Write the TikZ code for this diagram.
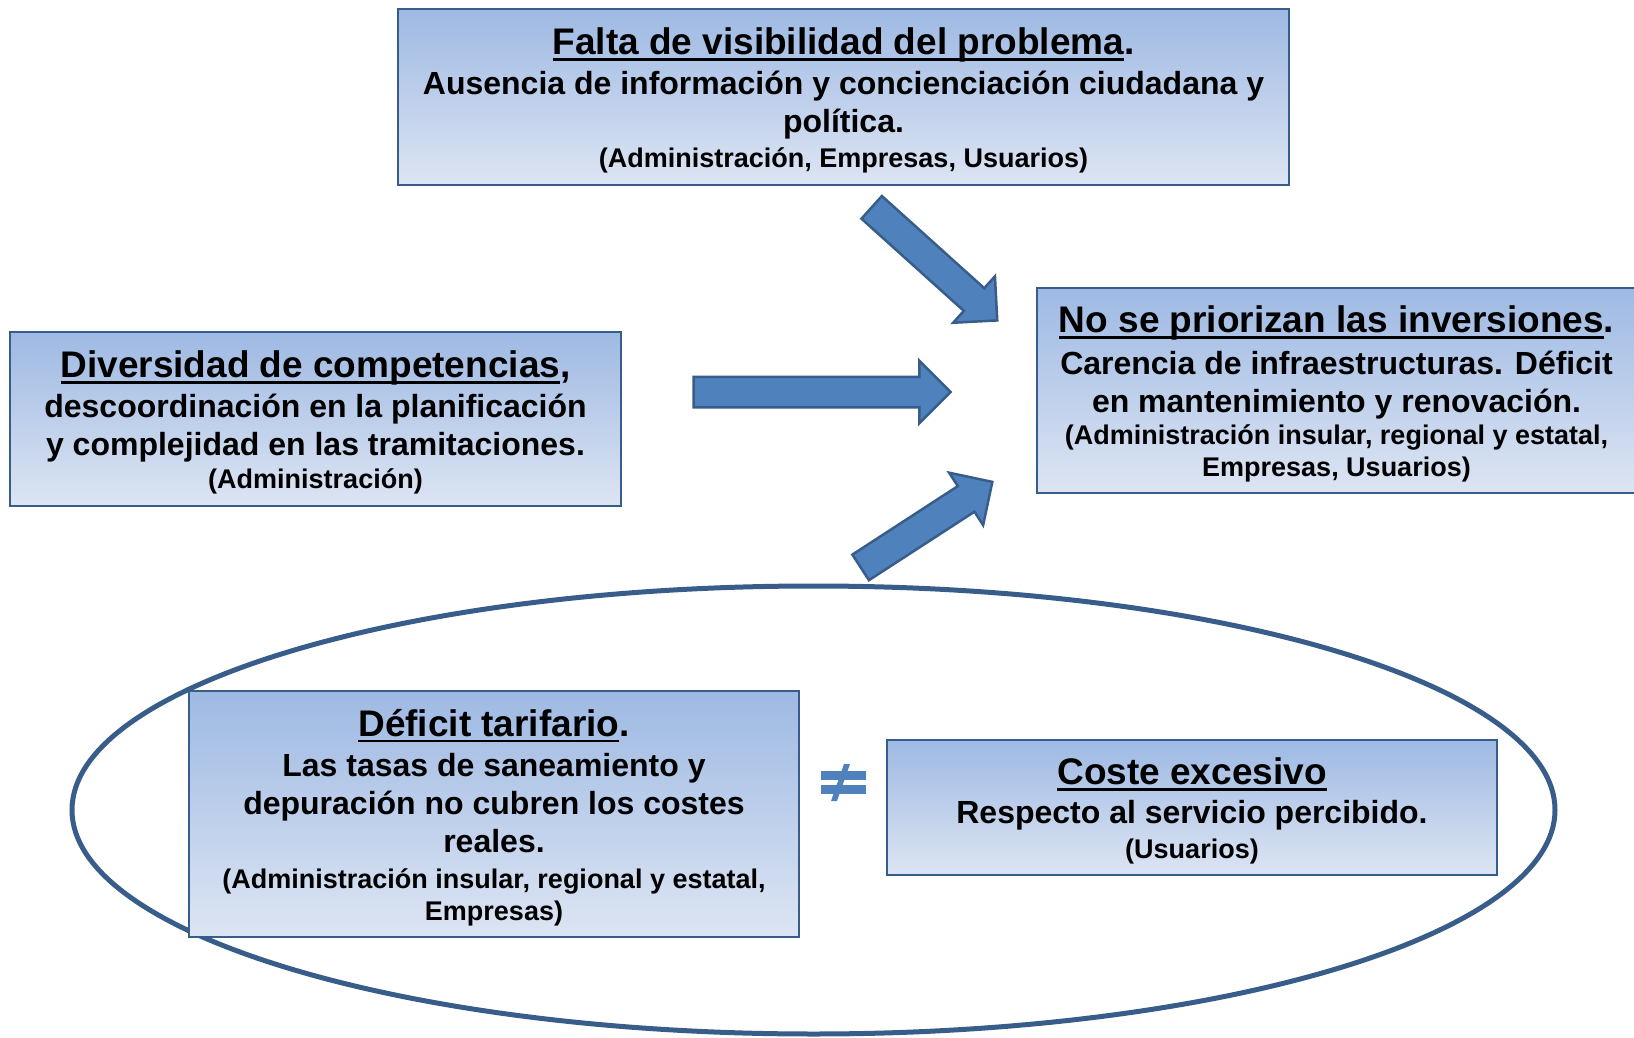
\documentclass[tikz,border=0pt]{standalone}
\usepackage{fontspec}
\setmainfont{Liberation Sans}
\usetikzlibrary{shapes.arrows}
\definecolor{boxtop}{RGB}{158,185,227}
\definecolor{boxbot}{RGB}{221,229,243}
\definecolor{edgeblue}{RGB}{56,93,138}
\definecolor{arrowblue}{RGB}{79,129,189}
\newsavebox{\ulsave}
\newcommand{\ulin}[1]{\sbox{\ulsave}{#1}\rlap{\rule[-6pt]{\wd\ulsave}{2.6pt}}\usebox{\ulsave}}
\newcommand{\tsz}{\fontsize{37}{44}\selectfont\rule{0pt}{34pt}}
\newcommand{\psz}{\fontsize{27}{32}\selectfont}

\begin{document}
\begin{tikzpicture}[x=1pt, y=-1pt,
    box/.style={draw=edgeblue, line width=2.5pt, top color=boxtop, bottom color=boxbot,
        align=center, inner sep=0pt, font=\bfseries\fontsize{32}{38}\selectfont},
    bigarrow/.style={single arrow, draw=edgeblue, fill=arrowblue, line width=2.5pt,
        inner xsep=0pt, inner ysep=14pt, minimum width=60pt, single arrow head extend=16pt,
        single arrow tip angle=90, single arrow head indent=0pt}]
    \useasboundingbox (0,0) rectangle (1634,1038);

    % ellipse round the two lower boxes
    \draw[edgeblue, line width=5pt] (813.5,810) ellipse [x radius=741.5pt, y radius=224pt];

    \node[box, minimum width=891pt, minimum height=176pt] (vis) at (843.5,97)
        {\tsz\ulin{Falta de visibilidad del problema}.\\[2pt]
         Ausencia de información y concienciación ciudadana y\\
         política.\\[-3pt]
         \psz(Administración, Empresas, Usuarios)};
    \node[box, minimum width=611pt, minimum height=174pt] (div) at (315.5,419)
        {\tsz\ulin{Diversidad de competencias},\\[2pt]
         descoordinación en la planificación\\
         y complejidad en las tramitaciones.\\[-5pt]
         \psz(Administración)};
    \node[box, minimum width=599pt, minimum height=205pt] (inv) at (1336.5,390.5)
        {\tsz\ulin{No se priorizan las inversiones}.\\[4pt]
         Carencia de infraestructuras. Déficit\\
         en mantenimiento y renovación.\\[-6pt]
         \psz(Administración insular, regional y estatal,\\[-6pt]
         \psz Empresas, Usuarios)};
    \node[box, minimum width=610pt, minimum height=246pt] (def) at (494,814)
        {\tsz\ulin{Déficit tarifario}.\\[2pt]
         Las tasas de saneamiento y\\
         depuración no cubren los costes\\
         reales.\\[-2pt]
         \psz(Administración insular, regional y estatal,\\[-6pt]
         \psz Empresas)};
    \node[box, minimum width=610pt, minimum height=135pt] (cos) at (1192,807.5)
        {\tsz\ulin{Coste excesivo}\\[1pt]
         Respecto al servicio percibido.\\[-3pt]
         \psz(Usuarios)};

    % block arrows
    \node[bigarrow, minimum height=169pt, rotate=-42] (aVis) at (928.8,258.8) {};
    \node[bigarrow, minimum height=257pt] (aDiv) at (814.5,392) {};
    \node[bigarrow, minimum height=157pt, rotate=33] (aDef) at (920.1,528.8) {};

    % not-equal sign
    \fill[arrowblue] (821,771) rectangle (866,780);
    \fill[arrowblue] (821,785) rectangle (866,794);
    \fill[arrowblue] (844,764) -- (850,764) -- (837,801) -- (831,801) -- cycle;
\end{tikzpicture}
\end{document}
